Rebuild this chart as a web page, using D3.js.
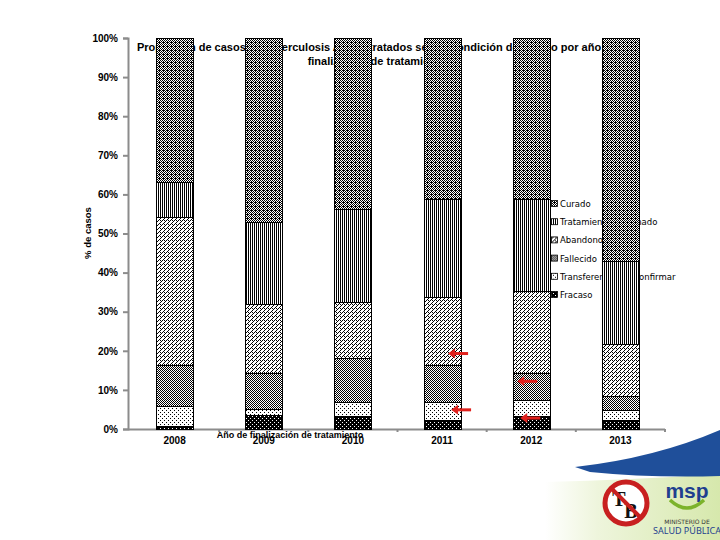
<!DOCTYPE html>
<html>
<head>
<meta charset="utf-8">
<script src="https://cdn.jsdelivr.net/npm/d3@7"></script>
<style>
  html, body { margin: 0; padding: 0; background: #fff; }
  svg { display: block; }
</style>
</head>
<body>
<div id="chart"></div>
<script>
// Data (percent of cases by discharge condition)
const years = ['2008', '2009', '2010', '2011', '2012', '2013'];
const conditions = ['Fracaso', 'Transferencia sin confirmar', 'Fallecido', 'Abandono', 'Tratamiento terminado', 'Curado'];
const fracaso = [0.7, 3.7, 3.3, 2.3, 3.2, 2.3];
const transferencia = [5.2, 1.3, 3.5, 4.5, 4.2, 2.6];
const fallecido = [10.5, 9.3, 11.3, 9.6, 6.8, 3.5];
const abandono = [37.8, 17.6, 14.3, 17.3, 21.1, 13.3];
const terminado = [9.0, 21.0, 23.8, 25.0, 23.4, 21.3];
const curado = [36.8, 47.1, 43.8, 41.3, 41.3, 57.0];
const yTicks = [0, 10, 20, 30, 40, 50, 60, 70, 80, 90, 100];
const legendOrder = ['Curado', 'Tratamiento terminado', 'Abandono', 'Fallecido', 'Transferencia sin confirmar', 'Fracaso'];
// red arrows added on the slide: year, value (%), head offset from band centre
const arrows = [
  { year: '2011', value: 19.3, dx: 6 },
  { year: '2011', value: 4.9, dx: 9 },
  { year: '2012', value: 12.2, dx: -14 },
  { year: '2012', value: 2.8, dx: -11 }
];

const width = 720, height = 540;
const seriesValues = [fracaso, transferencia, fallecido, abandono, terminado, curado];

const rows = years.map((y, i) => {
  const r = { year: y };
  conditions.forEach((c, k) => { r[c] = seriesValues[k][i]; });
  return r;
});

const svg = d3.select('#chart').append('svg')
  .attr('width', width)
  .attr('height', height);

// Fill patterns (black & white, like the original print-style chart)
const defs = svg.append('defs');
const makePattern = (id, size, bg, fg, cells) => {
  const p = defs.append('pattern')
    .attr('id', id)
    .attr('patternUnits', 'userSpaceOnUse')
    .attr('width', size)
    .attr('height', size);
  p.append('rect').attr('width', size).attr('height', size).attr('fill', bg);
  cells.forEach(([cx, cy]) => {
    p.append('rect').attr('x', cx).attr('y', cy).attr('width', 1).attr('height', 1).attr('fill', fg);
  });
};
// Curado: dark diamond checker
makePattern('p-curado', 4, '#000', '#fff', [[1, 0], [3, 0], [0, 1], [2, 1], [1, 2], [0, 3], [2, 3]]);
// Tratamiento terminado: vertical stripes
makePattern('p-terminado', 2, '#fff', '#000', [[0, 0], [0, 1]]);
// Abandono: light checker
makePattern('p-abandono', 4, '#fff', '#000', [[0, 0], [2, 0], [1, 1], [0, 2], [3, 3]]);
// Fallecido: dense checker
makePattern('p-fallecido', 2, '#fff', '#000', [[0, 0], [1, 1]]);
// Transferencia: sparse dots
makePattern('p-transferencia', 4, '#fff', '#000', [[0, 0], [2, 2]]);
// Fracaso: black with white dots
makePattern('p-fracaso', 4, '#000', '#fff', [[0, 0], [2, 2]]);

const fills = {
  'Curado': 'url(#p-curado)',
  'Tratamiento terminado': 'url(#p-terminado)',
  'Abandono': 'url(#p-abandono)',
  'Fallecido': 'url(#p-fallecido)',
  'Transferencia sin confirmar': 'url(#p-transferencia)',
  'Fracaso': 'url(#p-fracaso)'
};

// Decorative slide footer (bottom right)
const deco = svg.append('g').attr('class', 'slide-deco');
const grad = defs.append('linearGradient').attr('id', 'g-green').attr('x1', 0).attr('x2', 1);
grad.append('stop').attr('offset', '0%').attr('stop-color', '#ffffff');
grad.append('stop').attr('offset', '30%').attr('stop-color', '#eef5dc');
grad.append('stop').attr('offset', '100%').attr('stop-color', '#d6e8ac');
deco.append('path')
  .attr('d', 'M545,540 L545,482 Q630,480 720,474 L720,540 Z')
  .attr('fill', 'url(#g-green)');
deco.append('path')
  .attr('d', 'M575,467 Q655,458 720,430 L720,476 Q650,478 590,472 Z')
  .attr('fill', '#1f4f9a');
// TB logo
const tb = deco.append('g').attr('transform', 'translate(626,503)');
tb.append('circle').attr('r', 21).attr('fill', '#fff').attr('stroke', '#c82020').attr('stroke-width', 5);
tb.append('text').attr('x', -7).attr('y', 3).attr('text-anchor', 'middle')
  .style('font', 'bold 20px "Liberation Serif", serif').style('fill', '#111').text('T');
tb.append('text').attr('x', 5).attr('y', 15).attr('text-anchor', 'middle')
  .style('font', 'bold 20px "Liberation Serif", serif').style('fill', '#111').text('B');
tb.append('line').attr('x1', -14).attr('y1', -14).attr('x2', 14).attr('y2', 14)
  .attr('stroke', '#c82020').attr('stroke-width', 4);
// MSP logo
const msp = deco.append('g').attr('transform', 'translate(687,498)');
msp.append('text').attr('text-anchor', 'middle').attr('y', 0)
  .style('font', 'bold 21px "Liberation Sans", Arial, sans-serif').style('fill', '#1f3f8f').text('msp');
msp.append('path').attr('d', 'M-17,2 Q0,18 17,2').attr('fill', 'none')
  .attr('stroke', '#7cb32b').attr('stroke-width', 3.5);
msp.append('text').attr('text-anchor', 'middle').attr('y', 26)
  .style('font', '6px "DejaVu Sans", sans-serif').style('fill', '#333').text('MINISTERIO DE');
msp.append('text').attr('text-anchor', 'middle').attr('y', 36)
  .style('font', '9px "Noto Sans", sans-serif').style('fill', '#1f3f8f').text('SALUD PÚBLICA');

// Scales
const x = d3.scaleBand()
  .domain(years)
  .range([130, 665])
  .paddingInner(0.585)
  .paddingOuter(0.2925);
const y = d3.scaleLinear()
  .domain([0, 100])
  .range([429, 38]);

const bold = '"Liberation Sans", Arial, sans-serif';

// Title (sits behind the bars, as in the original)
const title = svg.append('text')
  .attr('text-anchor', 'middle')
  .style('font-family', bold)
  .style('font-weight', 'bold')
  .style('font-size', '11px')
  .style('fill', '#000');
title.append('tspan').attr('x', 377).attr('y', 51)
  .text('Proporción de casos de tuberculosis Activa tratados según condición de egreso por año de');
title.append('tspan').attr('x', 377).attr('y', 65)
  .text('finalización de tratamiento');

// Legend (also behind the bars)
const legend = svg.append('g')
  .attr('class', 'legend')
  .attr('transform', 'translate(551, 204)');
const legendItems = legend.selectAll('.legend-item')
  .data(legendOrder)
  .enter()
  .append('g')
  .attr('class', 'legend-item')
  .attr('transform', (d, i) => `translate(0, ${i * 18.2})`);
legendItems.append('rect')
  .attr('x', 0.5).attr('y', -3.5)
  .attr('width', 6).attr('height', 6)
  .attr('fill', d => fills[d])
  .attr('stroke', '#000')
  .attr('stroke-width', 0.8);
legendItems.append('text')
  .attr('x', 9)
  .attr('y', 0)
  .attr('dy', '0.35em')
  .style('font-family', '"DejaVu Sans", sans-serif')
  .style('font-size', '8.5px')
  .style('fill', '#000')
  .text(d => d);

// Axes
const yAxis = svg.append('g')
  .attr('class', 'y-axis')
  .attr('transform', 'translate(128,0)')
  .call(d3.axisLeft(y).tickValues(yTicks).tickFormat(d => d + '%').tickSize(5).tickPadding(5));
yAxis.selectAll('text')
  .style('font-family', bold)
  .style('font-weight', 'bold')
  .style('font-size', '10px')
  .style('fill', '#000');

const xAxis = svg.append('g')
  .attr('class', 'x-axis')
  .attr('transform', 'translate(0,429)')
  .call(d3.axisBottom(x).tickSize(0).tickPadding(8));
xAxis.select('.domain').attr('d', 'M128,0.5H665');
xAxis.selectAll('text')
  .style('font-family', bold)
  .style('font-weight', 'bold')
  .style('font-size', '10px')
  .style('fill', '#000');
// small tick marks between categories
xAxis.selectAll('.band-tick')
  .data(years)
  .enter()
  .append('line')
  .attr('class', 'band-tick')
  .attr('x1', d => x(d) + x.bandwidth() / 2 + x.step() / 2)
  .attr('x2', d => x(d) + x.bandwidth() / 2 + x.step() / 2)
  .attr('y1', 0)
  .attr('y2', 3);

svg.selectAll('.domain, .tick line, .band-tick')
  .style('stroke', '#8c8c8c')
  .style('stroke-width', 2);

// Axis titles (the x title overlaps the year labels, as in the original slide)
svg.append('text')
  .attr('x', 290)
  .attr('y', 438)
  .attr('text-anchor', 'middle')
  .style('font-family', bold)
  .style('font-weight', 'bold')
  .style('font-size', '9px')
  .text('Año de finalización de tratamiento');
svg.append('text')
  .attr('transform', 'translate(91,233) rotate(-90)')
  .attr('text-anchor', 'middle')
  .style('font-family', bold)
  .style('font-weight', 'bold')
  .style('font-size', '9.5px')
  .text('% de casos');

// Stacked bars
const stack = d3.stack().keys(conditions);
const series = stack(rows);
svg.append('g')
  .attr('class', 'bars')
  .style('shape-rendering', 'crispEdges')
  .selectAll('g')
  .data(series)
  .enter()
  .append('g')
  .attr('fill', d => fills[d.key])
  .selectAll('rect')
  .data(d => d)
  .enter()
  .append('rect')
  .attr('x', d => Math.round(x(d.data.year)) + 0.5)
  .attr('y', d => Math.round(y(d[1])) + 0.5)
  .attr('width', Math.round(x.bandwidth()))
  .attr('height', d => Math.max(0, Math.round(y(d[0])) - Math.round(y(d[1]))))
  .attr('stroke', '#000')
  .attr('stroke-width', 1);

// Red arrows (annotations)
const arrowG = svg.append('g').attr('class', 'arrows');
arrows.forEach(a => {
  const hx = x(a.year) + x.bandwidth() / 2 + a.dx;
  const hy = y(a.value);
  arrowG.append('line')
    .attr('x1', hx + 5).attr('y1', hy)
    .attr('x2', hx + 20).attr('y2', hy)
    .attr('stroke', '#e0201c').attr('stroke-width', 3);
  arrowG.append('path')
    .attr('d', `M${hx},${hy} L${hx + 7},${hy - 5} L${hx + 7},${hy + 5} Z`)
    .attr('fill', '#e0201c');
});
</script>
</body>
</html>
